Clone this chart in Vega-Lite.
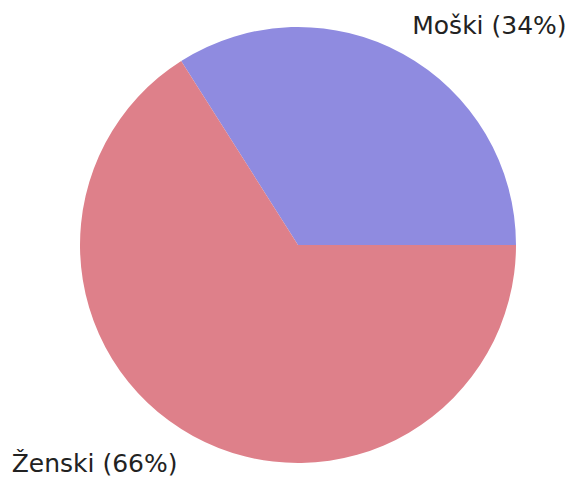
{
  "$schema": "https://vega.github.io/schema/vega-lite/v6.json",
  "autosize": "none",
  "width": 546,
  "height": 470,
  "padding": {"left": 25, "top": 10, "right": 0, "bottom": 0},
  "background": "white",
  "config": {"view": {"stroke": null}},
  "data": {"values": [
    {"spol": "Moški", "delez": 34, "label": "Moški (34%)", "order": 1},
    {"spol": "Ženski", "delez": 66, "label": "Ženski (66%)", "order": 2}
  ]},
  "encoding": {
    "theta": {"field": "delez", "type": "quantitative", "stack": true, "scale": {"range": [-0.5655, 5.7177]}},
    "order": {"field": "order", "type": "quantitative"}
  },
  "layer": [
    {
      "mark": {"type": "arc", "outerRadius": 218},
      "encoding": {
        "color": {"field": "spol", "type": "nominal", "legend": null, "scale": {"domain": ["Moški", "Ženski"], "range": ["#8f8be0", "#de808a"]}}
      }
    },
    {
      "mark": {"type": "text", "radius": 294.5, "thetaOffset": 0.232, "dx": -6, "font": "DejaVu Sans", "fontSize": 25, "color": "#222222"},
      "encoding": {"text": {"field": "label"}}
    }
  ]
}
